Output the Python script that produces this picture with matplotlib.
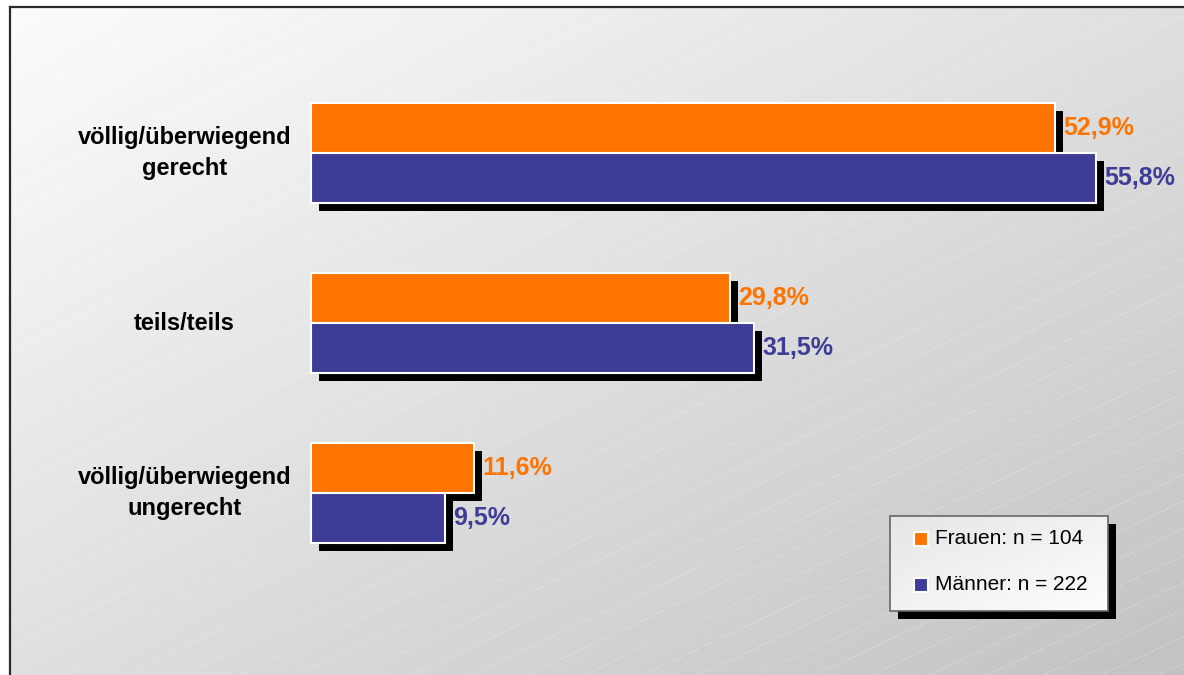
import numpy as np
import matplotlib
matplotlib.use("Agg")
import matplotlib.pyplot as plt
from matplotlib.patches import Rectangle
from matplotlib.transforms import ScaledTranslation

plt.rcParams['font.family'] = ['Liberation Sans', 'DejaVu Sans']

# data
categories = ["völlig/überwiegend\ngerecht", "teils/teils", "völlig/überwiegend\nungerecht"]
series_names = ["Frauen: n = 104", "Männer: n = 222"]
frauen = [52.9, 29.8, 11.6]
maenner = [55.8, 31.5, 9.5]
colors = ['#FF7300', '#3D3D96']

W, H = 1184, 675
fig = plt.figure(figsize=(W / 100, H / 100), dpi=100)
fig.patch.set_facecolor('white')

# background: diagonal grey gradient with faint white stripes
bg = fig.add_axes([0, 0, 1, 1])
bg.set_xlim(0, W)
bg.set_ylim(H, 0)
bg.axis('off')
gx, gy = np.meshgrid(np.linspace(0, 1, 300), np.linspace(0, 1, 200))
grad = 0.985 - 0.225 * (gx + gy) / 2
bg.imshow(grad, cmap='gray', vmin=0, vmax=1, extent=(10, W, H, 7),
          aspect='auto', interpolation='bilinear', zorder=0)
xs = np.array([10, W])
for y0 in np.arange(0, H + 0.5 * W, 27):
    bg.plot(xs, y0 - 0.47 * (xs - 10), color='white', lw=0.8, alpha=0.35,
            ls=(0, (2, 2)), zorder=1)
bg.plot([10, 10], [H, 7], color='#2a2a2a', lw=1.6, zorder=2)
bg.plot([10, W], [7, 7], color='#2a2a2a', lw=1.6, zorder=2)
bg.set_xlim(0, W)
bg.set_ylim(H, 0)

# main axes: x = 0 sits at 311 px, 14.07 px per percent; groups 170 px apart
ax = fig.add_axes([0, 0, 1, 1])
ax.patch.set_alpha(0)
ax.set_xlim(-311 / 14.07, (W - 311) / 14.07)
ax.set_ylim((H - 153) / 170, -153 / 170)
ax.axis('off')

ypos = np.arange(len(categories))
h = 50 / 170
shadow_tr = ax.transData + ScaledTranslation(8 / 100, -8 / 100, fig.dpi_scale_trans)

for vals, off, col in [(frauen, -h / 2, colors[0]), (maenner, h / 2, colors[1])]:
    ax.barh(ypos + off, vals, height=h, color='black', transform=shadow_tr, zorder=1)
for vals, off, col in [(frauen, -h / 2, colors[0]), (maenner, h / 2, colors[1])]:
    ax.barh(ypos + off, vals, height=h, color=col, edgecolor='white', linewidth=1.5, zorder=2)
    for y, v in zip(ypos + off, vals):
        ax.annotate(f"{v:.1f}%".replace('.', ','), xy=(v, y), xytext=(6, 0),
                    textcoords='offset points', ha='left', va='center',
                    fontsize=18, fontweight='bold', color=col, zorder=3)

for y, cat in zip(ypos, categories):
    ax.text(-9.0, y, cat, ha='center', va='center', multialignment='center',
            fontsize=17, fontweight='bold', color='black', linespacing=1.4)

# legend box with hard black shadow
lg = fig.add_axes([0, 0, 1, 1])
lg.patch.set_alpha(0)
lg.set_xlim(0, W)
lg.set_ylim(H, 0)
lg.axis('off')
bx0, by0, bx1, by1 = 890, 516, 1108, 611
lg.add_patch(Rectangle((bx0 + 8, by0 + 8), bx1 - bx0, by1 - by0, facecolor='black', zorder=1))
lgx, lgy = np.meshgrid(np.linspace(0, 1, 100), np.linspace(0, 1, 50))
lg.imshow(0.90 + 0.09 * (lgx + lgy) / 2, cmap='gray', vmin=0, vmax=1,
          extent=(bx0, bx1, by1, by0), aspect='auto', zorder=2)
lg.add_patch(Rectangle((bx0, by0), bx1 - bx0, by1 - by0, facecolor='none',
                       edgecolor='#666666', lw=1.2, zorder=3))
for i, (name, col) in enumerate(zip(series_names, colors)):
    cy = 539 + 46 * i
    lg.add_patch(Rectangle((914, cy - 7), 14, 14, facecolor=col, edgecolor='white',
                           lw=1.5, zorder=4))
    lg.text(935, cy, name, ha='left', va='center', fontsize=15, color='black', zorder=4)
lg.set_xlim(0, W)
lg.set_ylim(H, 0)

fig.savefig('out.png', dpi=100)
